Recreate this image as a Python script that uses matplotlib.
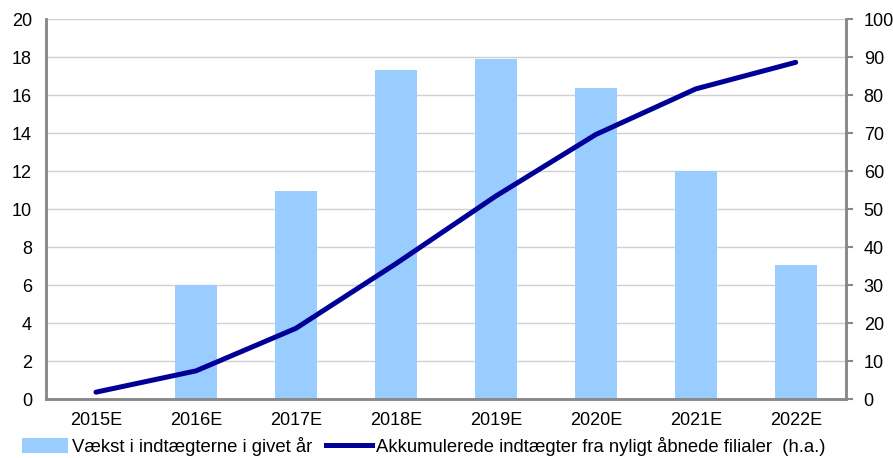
import numpy as np
import matplotlib.pyplot as plt
from matplotlib.patches import Patch
from matplotlib.lines import Line2D

plt.rcParams['font.family'] = ['Liberation Sans', 'DejaVu Sans']
plt.rcParams['font.size'] = 13

# Data
years = ['2015E', '2016E', '2017E', '2018E', '2019E', '2020E', '2021E', '2022E']
vaekst = [0, 6.0, 10.95, 17.3, 17.9, 16.35, 12.0, 7.05]
akkumuleret = [1.8, 7.4, 18.6, 35.6, 53.4, 69.6, 81.6, 88.6]

bar_label = 'Vækst i indtægterne i givet år'
line_label = 'Akkumulerede indtægter fra nyligt åbnede filialer  (h.a.)'

bar_color = '#99CCFF'
line_color = '#000099'
axis_color = '#888888'

fig = plt.figure(figsize=(8.93, 4.58), dpi=100)
ax = fig.add_axes([0.0515, 0.1288, 0.8955, 0.8297])
x = np.arange(len(years))

ax.bar(x, vaekst, width=0.42, color=bar_color, zorder=2)
ax.set_ylim(0, 20)
ax.set_yticks(np.arange(0, 21, 2))
ax.set_xlim(-0.5, len(years) - 0.5)
ax.set_xticks(x)
ax.set_xticklabels(years)
ax.grid(axis='y', color='#d0d0d0', linewidth=1, zorder=0)
ax.set_axisbelow(True)
ax.tick_params(axis='y', length=0, pad=10)
ax.tick_params(axis='x', length=0, pad=9)

ax2 = ax.twinx()
ax2.plot(x, akkumuleret, color=line_color, linewidth=3.6, solid_capstyle='round', zorder=3)
ax2.set_ylim(0, 100)
ax2.set_yticks(np.arange(0, 101, 10))
ax2.tick_params(axis='y', length=5, width=1.5, color=axis_color, pad=8, direction='out')

for a in (ax, ax2):
    a.spines['top'].set_visible(False)
    for s in ('left', 'right', 'bottom'):
        a.spines[s].set_color(axis_color)
        a.spines[s].set_linewidth(1.8)

handles = [Patch(facecolor=bar_color, edgecolor='none'),
           Line2D([0], [0], color=line_color, linewidth=3.6)]
fig.legend(handles, [bar_label, line_label], loc='lower left',
           bbox_to_anchor=(0.006, -0.032), ncol=2, frameon=False,
           prop={'size': 13.3},
           handlelength=2.5, handletextpad=0.2, columnspacing=0.75,
           handleheight=0.9)

fig.savefig('out.png', dpi=100)
